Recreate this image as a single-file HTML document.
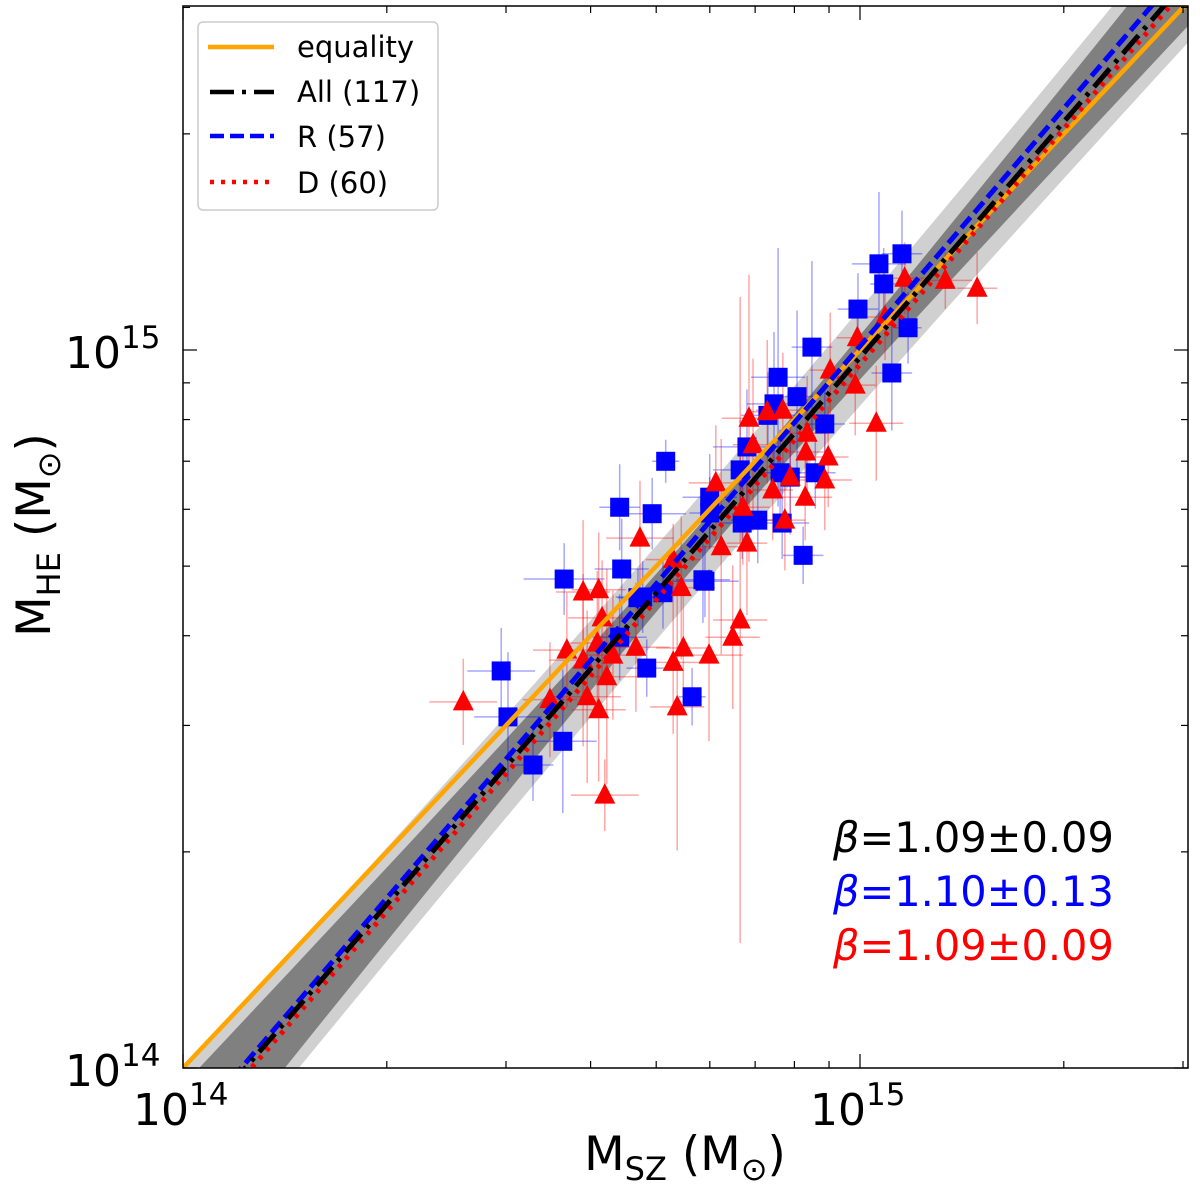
<!DOCTYPE html>
<html><head><meta charset="utf-8"><style>
html,body{margin:0;padding:0;background:#fff;overflow:hidden;width:1200px;height:1187px;}
svg{display:block;font-family:"DejaVu Sans","Liberation Sans",sans-serif;}
</style></head><body>
<svg id="chart" width="1200" height="1187" viewBox="0 0 1200 1187" xmlns="http://www.w3.org/2000/svg">
<defs><clipPath id="plotclip"><rect x="183" y="6" width="1005" height="1062"/></clipPath></defs>
<g id="bands" clip-path="url(#plotclip)"></g>
<g id="errs" clip-path="url(#plotclip)"></g>
<g id="pts" clip-path="url(#plotclip)"></g>
<g id="lines" clip-path="url(#plotclip)"></g>
<g id="axes"></g>
<g>
<rect x="198" y="22" width="240" height="188" rx="5" fill="#fff" fill-opacity="0.85" stroke="#ccc" stroke-width="1.5"/>
<line x1="208" y1="47" x2="274" y2="47" stroke="orange" stroke-width="4.5"/>
<text x="297" y="57" font-size="29">equality</text>
<line x1="210" y1="92" x2="274" y2="92" stroke="#000" stroke-width="4.5" stroke-dasharray="24,8,4,8"/>
<text x="297" y="102" font-size="29">All (117)</text>
<line x1="210" y1="136" x2="274" y2="136" stroke="blue" stroke-width="4.5" stroke-dasharray="14,6"/>
<text x="297" y="147" font-size="29">R (57)</text>
<line x1="210" y1="182" x2="274" y2="182" stroke="red" stroke-width="4.5" stroke-dasharray="4,7"/>
<text x="297" y="193" font-size="29">D (60)</text>
</g>
<text x="833" y="852" font-size="41.5" fill="#000"><tspan font-style="italic">β</tspan>=1.09±0.09</text>
<text x="833" y="906" font-size="41.5" fill="blue"><tspan font-style="italic">β</tspan>=1.10±0.13</text>
<text x="833" y="960" font-size="41.5" fill="red"><tspan font-style="italic">β</tspan>=1.09±0.09</text>
<text x="685" y="1170" font-size="47" text-anchor="middle">M<tspan font-size="32" dy="10">SZ</tspan><tspan dy="-10"> (M</tspan><tspan font-size="32" dy="10">⊙</tspan><tspan dy="-10">)</tspan></text>
<text transform="translate(50,535) rotate(-90)" font-size="47" text-anchor="middle">M<tspan font-size="32" dy="10">HE</tspan><tspan dy="-10"> (M</tspan><tspan font-size="32" dy="10">⊙</tspan><tspan dy="-10">)</tspan></text>
</svg>
<script>
// log10 masses
const blueLogX=[14.470,14.480,14.517,14.561,14.645,14.693,14.713,14.648,14.563,14.645,14.685,14.752,14.771,14.679,14.672,14.709,14.879,14.929,14.873,14.907,14.864,14.948,14.833,14.823,14.882,14.897,14.934,14.849,14.826,14.885,14.778,14.778,14.768,14.916,15.047,15.071,14.997,15.035,15.028,15.062];
const blueLogY=[14.553,14.489,14.422,14.455,14.781,14.772,14.845,14.695,14.681,14.600,14.557,14.517,14.678,14.656,14.655,14.662,14.962,15.004,14.925,14.935,14.909,14.897,14.865,14.833,14.829,14.823,14.829,14.763,14.759,14.759,14.795,14.773,14.680,14.714,14.968,15.031,15.057,15.092,15.120,15.134];
const redLogX=[15.066,15.126,15.037,14.996,14.956,14.993,15.024,14.922,14.920,14.953,14.948,14.897,14.919,14.889,14.836,14.863,14.886,14.842,14.787,14.827,14.833,14.795,14.724,14.675,14.591,14.614,14.736,14.871,14.619,14.567,14.591,14.612,14.669,14.635,14.626,14.597,14.614,14.542,14.414,14.623,14.730,14.724,14.739,14.777,14.812,14.823,15.173];
const redLogY=[15.100,15.097,15.046,15.017,14.972,14.951,14.898,14.884,14.858,14.851,14.819,14.823,14.795,14.763,14.905,14.914,14.916,14.868,14.815,14.781,14.731,14.726,14.708,14.738,14.663,14.666,14.669,14.805,14.627,14.582,14.568,14.592,14.586,14.575,14.545,14.517,14.499,14.513,14.510,14.380,14.503,14.565,14.585,14.575,14.600,14.624,15.086];
const blueErrX=[0.05,0.05,0.03,0.05,0.03,0.05,0.02,0.04,0.06,0.04,0.03,0.02,0.05,0.04,0.03,0.04,0.04,0.03,0.04,0.03,0.04,0.03,0.05,0.04,0.03,0.03,0.03,0.04,0.03,0.04,0.04,0.03,0.04,0.03,0.03,0.02,0.03,0.02,0.04,0.03];
const blueErrY=[0.06,0.09,0.05,0.10,0.06,0.05,0.03,0.07,0.05,0.06,0.04,0.04,0.05,0.05,0.04,0.05,0.18,0.12,0.10,0.12,0.06,0.05,0.08,0.07,0.06,0.05,0.05,0.06,0.05,0.05,0.06,0.05,0.06,0.04,0.08,0.05,0.05,0.05,0.10,0.06];
const redErrX=[0.03,0.04,0.03,0.03,0.03,0.03,0.04,0.03,0.03,0.03,0.04,0.03,0.04,0.03,0.04,0.03,0.04,0.03,0.04,0.04,0.03,0.05,0.04,0.05,0.04,0.04,0.05,0.03,0.05,0.05,0.05,0.04,0.05,0.04,0.05,0.05,0.04,0.04,0.05,0.05,0.04,0.04,0.04,0.05,0.04,0.04,0.03];
const redErrY=[0.05,0.04,0.06,0.05,0.08,0.07,0.08,0.08,0.06,0.07,0.07,0.08,0.06,0.07,0.20,0.10,0.08,0.12,0.08,0.08,0.10,0.15,0.05,0.08,0.10,0.08,0.10,0.07,0.08,0.08,0.12,0.10,0.09,0.09,0.15,0.12,0.10,0.08,0.06,0.05,0.20,0.10,0.08,0.12,0.10,0.45,0.05];
// fits: logY = 14 + slope*(logX - xint)
const fitNames=['all','r','d'];
const fitSlope=[1.09,1.10,1.09];
const fitXint=[14.092,14.086,14.101];
const xTickExp=[14,15]; const yTickExp=[14,15];

const X0=183,X1=1188,Y0=1068,Y1=6,XMIN=14,YMIN=14,XD=677,YD=718;
const sx=l=>X0+(l-XMIN)*XD, sy=l=>Y0-(l-YMIN)*YD;
const NS='http://www.w3.org/2000/svg';
function mk(t,a,p){const e=document.createElementNS(NS,t);for(const k in a)e.setAttribute(k,a[k]);p.appendChild(e);return e;}
const bands=document.getElementById('bands'),errs=document.getElementById('errs'),pts=document.getElementById('pts'),lines=document.getElementById('lines'),axes=document.getElementById('axes');
const fy=(i,lx)=>14+fitSlope[i]*(lx-fitXint[i]);
function band(sa,sb,col,nm){let up=[],lo=[];for(let k=0;k<=40;k++){const lx=13.9+k*1.7/40;const c=fy(0,lx);const s=Math.sqrt(sa*sa+(sb*(lx-14.8))**2);up.push(sx(lx)+','+sy(c+s));lo.unshift(sx(lx)+','+sy(c-s));}
const p=mk('polygon',{points:up.concat(lo).join(' '),fill:col},bands);

}
band(0.065,0.09,'#d0d0d0','outer-band');
band(0.025,0.09,'#808080','inner-band');
function drawSeries(LX,LY,EX,EY,col,shape,nm){
 for(let i=0;i<LX.length;i++){
  const x=sx(LX[i]),y=sy(LY[i]);
  const g=mk('g',{stroke:col,'stroke-opacity':0.35,'stroke-width':1.5},errs);
  
  
  mk('line',{x1:sx(LX[i]-EX[i]),x2:sx(LX[i]+EX[i]),y1:y,y2:y},g);
  mk('line',{x1:x,x2:x,y1:sy(LY[i]-EY[i]),y2:sy(LY[i]+EY[i])},g);
  let m;
  if(shape==='sq') m=mk('rect',{x:x-9.5,y:y-9.5,width:19,height:19,fill:col},pts);
  else m=mk('polygon',{points:`${x},${y-12} ${x+10.5},${y+8.5} ${x-10.5},${y+8.5}`,fill:col},pts);
  
  
 }}
drawSeries(blueLogX,blueLogY,blueErrX,blueErrY,'blue','sq','relaxed');
drawSeries(redLogX,redLogY,redErrX,redErrY,'red','tri','disturbed');
const eq=mk('line',{x1:sx(13.9),y1:sy(13.9),x2:sx(15.6),y2:sy(15.6),stroke:'orange','stroke-width':4.5},lines);


const styles=[{c:'#000',d:'24,8,4,8'},{c:'blue',d:'14,6'},{c:'red',d:'4,7'}];
[2,1,0].forEach(i=>{const l=mk('line',{x1:sx(13.9),y1:sy(fy(i,13.9)),x2:sx(15.6),y2:sy(fy(i,15.6)),stroke:styles[i].c,'stroke-width':5,'stroke-dasharray':styles[i].d},lines);
 
 });
const fr=mk('rect',{x:X0,y:Y1,width:X1-X0,height:Y0-Y1,fill:'none',stroke:'#000','stroke-width':1.5},axes);


for(let e=14;e<=15;e++)for(let m=1;m<=9;m++){const lv=e+Math.log10(m);
 const L=m===1?14:7;
 const px=sx(lv);if(px>=X0&&px<=X1){mk('line',{x1:px,x2:px,y1:Y0,y2:Y0-L,stroke:'#000','stroke-width':1.2},axes);mk('line',{x1:px,x2:px,y1:Y1,y2:Y1+L,stroke:'#000','stroke-width':1.2},axes);}
 const py=sy(lv);if(py>=Y1&&py<=Y0){mk('line',{x1:X0,x2:X0+L,y1:py,y2:py,stroke:'#000','stroke-width':1.2},axes);mk('line',{x1:X1,x2:X1-L,y1:py,y2:py,stroke:'#000','stroke-width':1.2},axes);}}
xTickExp.forEach(e=>{const t=mk('text',{x:sx(e)-50,y:1125,'font-size':44},axes);t.innerHTML='10<tspan font-size="31" dy="-20">'+e+'</tspan>';
 
 });
yTickExp.forEach(e=>{const t=mk('text',{x:65,y:sy(e)+18,'font-size':44},axes);t.innerHTML='10<tspan font-size="31" dy="-20">'+e+'</tspan>';
 
 });
</script>
</body></html>
